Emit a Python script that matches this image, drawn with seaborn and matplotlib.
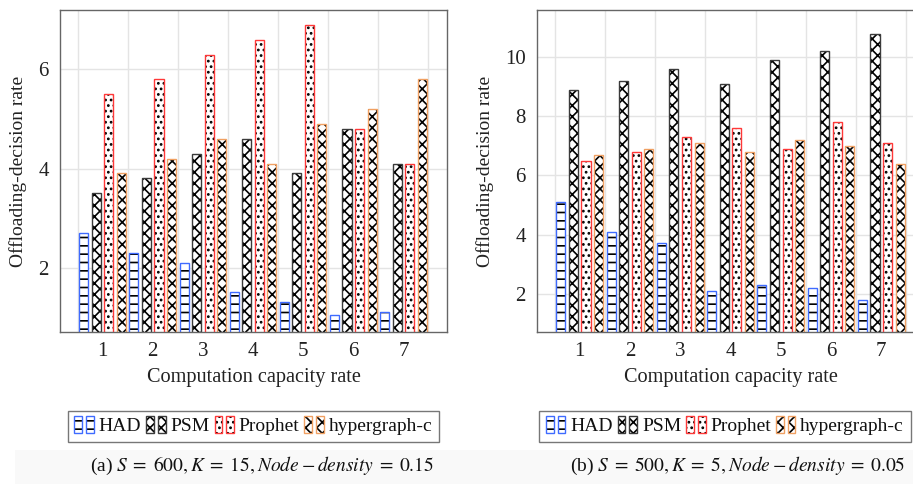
import numpy as np
import pandas as pd
import seaborn as sns
import matplotlib
matplotlib.use("Agg")
import matplotlib.pyplot as plt
from matplotlib.patches import Rectangle, Patch
from matplotlib.ticker import FixedLocator

# ---- data -------------------------------------------------------------
capacity = [1, 2, 3, 4, 5, 6, 7]
methods = ["HAD", "PSM", "Prophet", "hypergraph-c"]

had_a = [2.7, 2.3, 2.1, 1.5, 1.3, 1.05, 1.1]
psm_a = [3.5, 3.8, 4.3, 4.6, 3.9, 4.8, 4.1]
prophet_a = [5.5, 5.8, 6.3, 6.6, 6.9, 4.8, 4.1]
hyper_a = [3.9, 4.2, 4.6, 4.1, 4.9, 5.2, 5.8]

had_b = [5.1, 4.1, 3.7, 2.1, 2.3, 2.2, 1.8]
psm_b = [8.9, 9.2, 9.6, 9.1, 9.9, 10.2, 10.8]
prophet_b = [6.5, 6.8, 7.3, 7.6, 6.9, 7.8, 7.1]
hyper_b = [6.7, 6.9, 7.1, 6.8, 7.2, 7.0, 6.4]

yticks_a = [2, 4, 6]
yticks_b = [2, 4, 6, 8, 10]

captions = [r"(a) $S\;=\;600, K\;=\;15, Node - density\;=\;0.15$",
            r"(b) $S\;=\;500, K\;=\;5, Node - density\;=\;0.05$"]

# ---- style ------------------------------------------------------------
edge_colors = {"HAD": "#3f6bff", "PSM": "#3a3a3a",
               "Prophet": "#ff3838", "hypergraph-c": "#f0a062"}
hatches = {"HAD": "--", "PSM": "xxx", "Prophet": "...", "hypergraph-c": "xxx"}

sns.set_theme(style="white")
plt.rcParams["font.family"] = ["Liberation Serif", "DejaVu Serif"]
plt.rcParams["mathtext.fontset"] = "stix"
plt.rcParams["hatch.linewidth"] = 1.2

TICK_FS = 15
XLAB_FS = 14.6
YLAB_FS = 14
LEG_FS = 14
CAP_FS = 14


def long_frame(had, psm, prophet, hyper):
    rows = []
    for m, vals in zip(methods, [had, psm, prophet, hyper]):
        for c, v in zip(capacity, vals):
            rows.append({"capacity": c, "method": m, "value": v})
    return pd.DataFrame(rows)


class PairHandler:
    """Legend key made of two small hatched bars with a coloured outline."""

    def __init__(self, edge, hatch):
        self.edge = edge
        self.hatch = hatch

    def legend_artist(self, legend, orig_handle, fontsize, handlebox):
        x0, y0 = handlebox.xdescent, handlebox.ydescent
        w, h = handlebox.width, handlebox.height
        bw = w * 0.40
        last = None
        for k in range(2):
            xy = (x0 + k * (w - bw), y0 - 0.1 * h)
            fillr = Rectangle(xy, bw, h * 1.2, facecolor="white", edgecolor="black",
                              linewidth=0, hatch=self.hatch,
                              transform=handlebox.get_transform())
            outl = Rectangle(xy, bw, h * 1.2, fill=False, edgecolor=self.edge,
                             linewidth=1.0, transform=handlebox.get_transform())
            handlebox.add_artist(fillr)
            handlebox.add_artist(outl)
            last = outl
        return last


def draw_panel(ax, df, ylim, yticks, caption, caption_x):
    sns.barplot(data=df, x="capacity", y="value", hue="method",
                hue_order=methods, palette={m: "white" for m in methods},
                width=1.0, gap=0.28, errorbar=None, legend=False,
                edgecolor="black", linewidth=0, ax=ax, zorder=2)
    for m, cont in zip(methods, ax.containers):
        for p in cont.patches:
            p.set_hatch(hatches[m])
            p.set_edgecolor("black")
            p.set_linewidth(0)
            ax.add_patch(Rectangle(p.get_xy(), p.get_width(), p.get_height(),
                                   fill=False, edgecolor=edge_colors[m],
                                   linewidth=1.0, zorder=2.5))

    n = len(capacity)
    ax.set_xlim(-0.85, n - 1 + 0.87)
    ax.set_ylim(*ylim)
    ax.set_yticks(yticks)
    ax.set_xticks(range(n))
    ax.set_xticklabels([str(c) for c in capacity])
    ax.xaxis.set_minor_locator(FixedLocator(np.arange(-0.5, n, 1.0)))

    ax.grid(False)
    ax.grid(True, axis="y", which="major", color="#e4e4e4", linewidth=1.0, zorder=0)
    ax.grid(True, axis="x", which="minor", color="#e4e4e4", linewidth=1.0, zorder=0)
    ax.set_axisbelow(True)

    ax.tick_params(axis="x", which="major", length=0, labelsize=TICK_FS, pad=7,
                   labelcolor="#222222")
    ax.tick_params(axis="x", which="minor", length=5, width=1.0,
                   color="#d8d8d8", direction="out")
    ax.tick_params(axis="y", which="major", length=0, labelsize=TICK_FS, pad=8,
                   labelcolor="#222222")

    for s in ax.spines.values():
        s.set_color("#666666")
        s.set_linewidth(1.0)

    ax.set_xlabel("Computation capacity rate", fontsize=XLAB_FS, color="#222222",
                  labelpad=5)
    ax.set_ylabel("Offloading-decision rate", fontsize=YLAB_FS, color="#222222",
                  labelpad=8)

    handles = [Patch(label=m) for m in methods]
    hmap = {h: PairHandler(edge_colors[m], hatches[m]) for h, m in zip(handles, methods)}
    leg = ax.legend(handles=handles, handler_map=hmap, loc="upper center",
                    bbox_to_anchor=(caption_x[1], -0.245), ncol=4, fontsize=LEG_FS,
                    frameon=True, fancybox=False, handlelength=1.0,
                    handleheight=0.7, handletextpad=0.25, columnspacing=0.25,
                    borderpad=0.35, borderaxespad=0)
    leg.get_frame().set_edgecolor("#555555")
    leg.get_frame().set_linewidth(1.0)
    for t in leg.get_texts():
        t.set_color("#111111")

    ax.figure.text(caption_x[0], 1 - 466 / 484, caption, ha="center",
                   va="center", fontsize=CAP_FS, color="#111111")


fig = plt.figure(figsize=(9.13, 4.84), dpi=100)
fig.patch.set_facecolor("white")
fig.patches.append(Rectangle((15 / 913, 0), 1, 34 / 484, transform=fig.transFigure,
                             facecolor="#f9f9f9", edgecolor="none", zorder=0))

ax1 = fig.add_axes([60 / 913, 152 / 484, 387 / 913, 322 / 484])
ax2 = fig.add_axes([537 / 913, 152 / 484, 388 / 913, 322 / 484])

draw_panel(ax1, long_frame(had_a, psm_a, prophet_a, hyper_a), (0.7, 7.2),
           yticks_a, captions[0], (262 / 913, 0.5))
draw_panel(ax2, long_frame(had_b, psm_b, prophet_b, hyper_b), (0.7, 11.6),
           yticks_b, captions[1], (738 / 913, (725 - 537) / 388))

fig.savefig("out.png", dpi=100)
